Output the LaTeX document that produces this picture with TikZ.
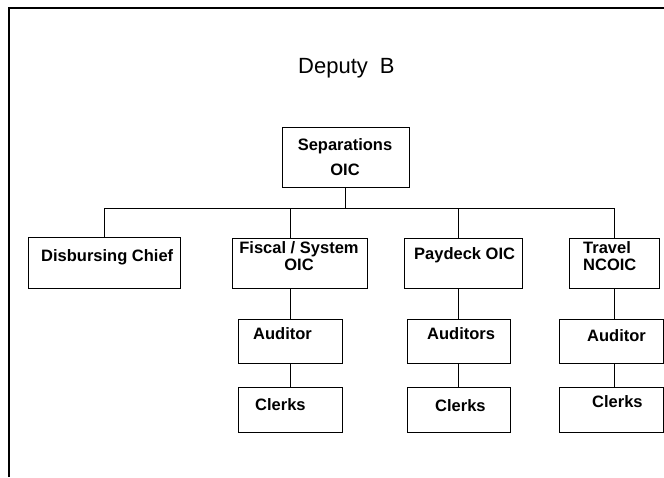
\documentclass[tikz,border=0pt]{standalone}
\usepackage{fontspec}
\setmainfont{Liberation Sans}
\begin{document}
\begin{tikzpicture}[x=1pt,y=-1pt,
  box/.style={draw,line width=1pt,inner sep=0pt,minimum width=#1},
  lbl/.style={font=\bfseries\fontsize{16.5}{17}\selectfont,inner sep=0pt},
  conn/.style={line width=0.9pt},
  frame/.style={line width=2pt}]
\useasboundingbox (0,0) rectangle (664,477);
% frame
\coordinate (ftl) at (9,8);
\coordinate (ftr) at (664,8);
\coordinate (fbl) at (9,477);
\draw[frame] (fbl) -- (ftl) -- (ftr);
% title
\node[font=\fontsize{22}{24}\selectfont,inner sep=0pt,anchor=base west] (title) at (298,73) {Deputy\hspace{12pt}B};
% boxes
\node[box=127pt,minimum height=60pt] (sep) at (345.5,157) {};
\node[box=152pt,minimum height=51pt] (disb) at (104,262.5) {};
\node[box=135pt,minimum height=50pt] (fisc) at (299.5,263) {};
\node[box=118pt,minimum height=50pt] (pay) at (463,263) {};
\node[box=90pt,minimum height=50pt] (trav) at (614,263) {};
\node[box=104pt,minimum height=44pt] (aud2) at (290,341) {};
\node[box=104pt,minimum height=45pt] (clk2) at (290,409.5) {};
\node[box=103pt,minimum height=44pt] (aud3) at (458.5,341) {};
\node[box=103pt,minimum height=45pt] (clk3) at (458.5,409.5) {};
\node[box=104pt,minimum height=44pt] (aud4) at (611,341) {};
\node[box=104pt,minimum height=45pt] (clk4) at (611,409.5) {};
% texts (multi-line nodes: base = last line's baseline)
\node[lbl,align=center,anchor=base] (tsep) at (345,175) {Separations\\[8pt]OIC};
\node[lbl,anchor=base west] (tdisb) at (41,261) {Disbursing Chief};
\node[lbl,align=center,anchor=base] (tfisc) at (299,270) {Fiscal / System\\OIC};
\node[lbl,anchor=base west] (tpay) at (414,259) {Paydeck OIC};
\node[lbl,align=left,anchor=base west] (ttrav) at (583,270) {Travel\\NCOIC};
\node[lbl,anchor=base west] (taud2) at (253,339) {Auditor};
\node[lbl,anchor=base west] (tclk2) at (255,410) {Clerks};
\node[lbl,anchor=base west] (taud3) at (427,339) {Auditors};
\node[lbl,anchor=base west] (tclk3) at (435,411) {Clerks};
\node[lbl,anchor=base west] (taud4) at (587,341) {Auditor};
\node[lbl,anchor=base west] (tclk4) at (592,407) {Clerks};
% connectors
\draw[conn] (sep.south) -- ++(0,21) coordinate (bus);
\draw[conn] (bus) -| (disb.north);
\draw[conn] (bus) -| (fisc.north -| aud2.north);
\draw[conn] (bus) -| (pay.north -| aud3.north);
\draw[conn] (bus) -| (trav.north);
\draw[conn] (fisc.south -| aud2.north) -- (aud2.north);
\draw[conn] (aud2.south) -- (clk2.north);
\draw[conn] (pay.south -| aud3.north) -- (aud3.north);
\draw[conn] (aud3.south) -- (clk3.north);
\draw[conn] (trav.south) -- (trav.south |- aud4.north);
\draw[conn] (aud4.south -| trav.south) -- (trav.south |- clk4.north);
\end{tikzpicture}
\end{document}
